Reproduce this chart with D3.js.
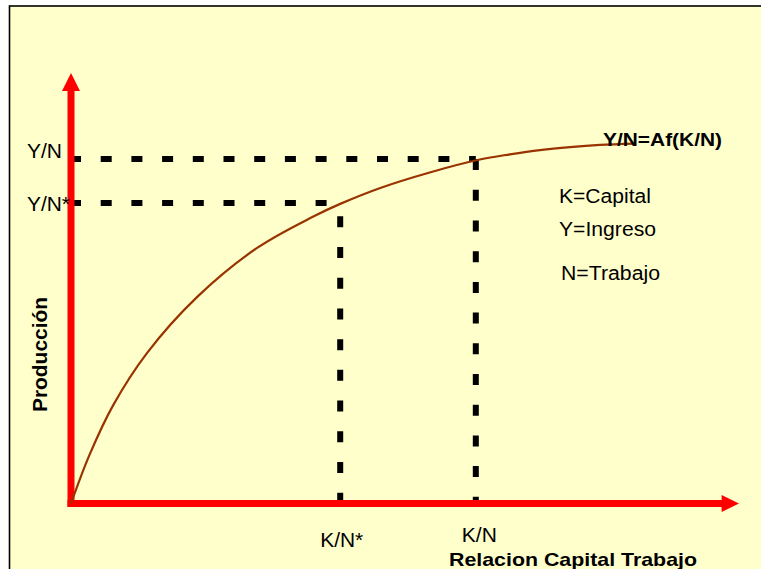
<!DOCTYPE html>
<html>
<head>
<meta charset="utf-8">
<script src="https://cdn.jsdelivr.net/npm/d3@7"></script>
<style>
  html, body { margin: 0; padding: 0; background: #fff; }
  svg { display: block; font-family: "Liberation Sans", Arial, sans-serif; }
</style>
</head>
<body>
<div id="chart"></div>
<script>
// production function Y/N = A f(K/N), values in abstract units (0-100)
const curveK = [0, 2.8, 6.3, 11.4, 18.9, 27.8, 36.2, 40.3, 46.3, 53.7, 61.2, 65.7, 70.2, 74.7, 79.2, 84.4];
const curveY = [0, 11.4, 22.8, 35.0, 48.0, 59.3, 66.6, 69.6, 73.3, 76.9, 79.9, 81.1, 82.1, 82.8, 83.3, 83.6];

const xTickLabels = ["K/N*", "K/N"];
const xTickValues = [40.3, 60.6];
const yTickLabels = ["Y/N*", "Y/N"];
const yTickValues = [69.8, 80];

const legendLines = ["K=Capital", "Y=Ingreso", "N=Trabajo"];

const width = 761, height = 569;

const x = d3.scaleLinear().domain([0, 100]).range([71, 739]);
const y = d3.scaleLinear().domain([0, 100]).range([503.5, 73]);

const svg = d3.select("#chart").append("svg")
  .attr("width", width)
  .attr("height", height);

// frame
svg.append("rect")
  .attr("x", 9.5).attr("y", 6)
  .attr("width", 800).attr("height", 600)
  .attr("fill", "#FFFFCC")
  .attr("stroke", "#000")
  .attr("stroke-width", 1.6);

// dashed guide lines
const guides = svg.append("g")
  .attr("stroke", "#000")
  .attr("stroke-width", 6)
  .attr("stroke-dasharray", "11,19.7");

// Y/N -> K/N
guides.append("line")
  .attr("x1", x(0) - 1).attr("x2", x(xTickValues[1]))
  .attr("y1", y(yTickValues[1])).attr("y2", y(yTickValues[1]));
guides.append("line")
  .attr("x1", x(xTickValues[1])).attr("x2", x(xTickValues[1]))
  .attr("y1", y(yTickValues[1])).attr("y2", y(0));

// Y/N* -> K/N*
guides.append("line")
  .attr("x1", x(0) - 1).attr("x2", x(38.8))
  .attr("y1", y(yTickValues[0])).attr("y2", y(yTickValues[0]));
guides.append("line")
  .attr("x1", x(xTickValues[0])).attr("x2", x(xTickValues[0]))
  .attr("y1", y(66.7)).attr("y2", y(0));

// axes
const axes = svg.append("g").attr("fill", "#FF0000");
axes.append("line")
  .attr("x1", x(0)).attr("x2", x(0))
  .attr("y1", y(0) + 3.5).attr("y2", y(96))
  .attr("stroke", "#FF0000").attr("stroke-width", 7);
axes.append("line")
  .attr("x1", x(0) - 3.5).attr("x2", x(97.5))
  .attr("y1", y(0)).attr("y2", y(0))
  .attr("stroke", "#FF0000").attr("stroke-width", 7);
axes.append("path")
  .attr("d", `M${x(0) - 9},${y(95.8)}L${x(0) + 9},${y(95.8)}L${x(0)},${y(100)}Z`);
axes.append("path")
  .attr("d", `M${x(97.4)},${y(0) - 8.5}L${x(97.4)},${y(0) + 8.5}L${x(100)},${y(0)}Z`);

// curve
const pts = curveK.map((k, i) => [k, curveY[i]]);
svg.append("path")
  .datum(pts)
  .attr("fill", "none")
  .attr("stroke", "#993300")
  .attr("stroke-width", 2.2)
  .attr("d", d3.line().x(d => x(d[0])).y(d => y(d[1])).curve(d3.curveCatmullRom.alpha(0.5)));

// tick labels
svg.append("g")
  .attr("font-size", 20)
  .selectAll("text")
  .data(yTickLabels)
  .join("text")
  .attr("x", 27)
  .attr("y", (d, i) => y(yTickValues[i]) + (i === 0 ? 7.5 : -1))
  .attr("textLength", d => d.length === 4 ? 43 : 35)
  .attr("lengthAdjust", "spacingAndGlyphs")
  .text(d => d);

svg.append("g")
  .attr("font-size", 20)
  .attr("text-anchor", "middle")
  .selectAll("text")
  .data(xTickLabels)
  .join("text")
  .attr("x", (d, i) => x(xTickValues[i]) + (i === 0 ? 1.5 : 3.5))
  .attr("y", (d, i) => i === 0 ? 547 : 541.7)
  .attr("textLength", d => d.length === 4 ? 43 : 35)
  .attr("lengthAdjust", "spacingAndGlyphs")
  .text(d => d);

// legend
const legendX = [559, 559, 561];
const legendY = [203, 236, 279.5];
const legendW = [92, 97, 99];
svg.append("g")
  .attr("font-size", 20)
  .selectAll("text")
  .data(legendLines)
  .join("text")
  .attr("x", (d, i) => legendX[i])
  .attr("y", (d, i) => legendY[i])
  .attr("textLength", (d, i) => legendW[i])
  .attr("lengthAdjust", "spacingAndGlyphs")
  .text(d => d);

// function label
svg.append("text")
  .attr("x", 603).attr("y", 146)
  .attr("font-size", 19).attr("font-weight", "bold")
  .attr("textLength", 119).attr("lengthAdjust", "spacingAndGlyphs")
  .text("Y/N=Af(K/N)");

// axis titles
svg.append("text")
  .attr("x", 449).attr("y", 565.5)
  .attr("font-size", 19).attr("font-weight", "bold")
  .attr("textLength", 248).attr("lengthAdjust", "spacingAndGlyphs")
  .text("Relacion Capital Trabajo");

svg.append("text")
  .attr("transform", "translate(46.5,412) rotate(-90)")
  .attr("font-size", 20).attr("font-weight", "bold")
  .attr("textLength", 115).attr("lengthAdjust", "spacingAndGlyphs")
  .text("Producción");
</script>
</body>
</html>
